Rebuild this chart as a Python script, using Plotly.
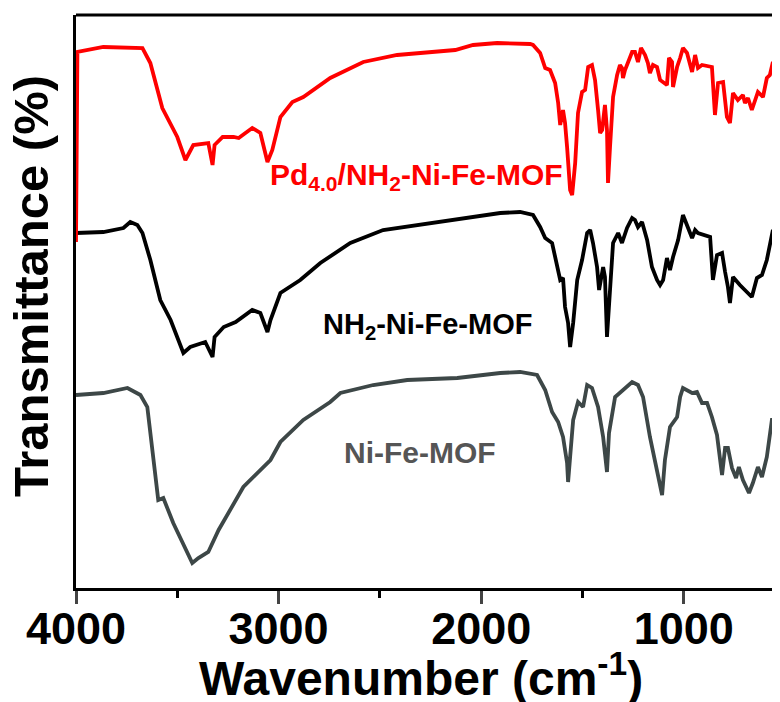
import plotly.graph_objects as go

# ---- data (wavenumber in cm^-1, transmittance in arbitrary offset units) ----
wn_pd = [4000, 3993, 3865, 3672, 3633, 3574, 3500, 3460, 3421, 3347, 3326, 3316, 3276, 3222, 3197,
         3130, 3090, 3055, 3031, 2991, 2932, 2878, 2745, 2582, 2415, 2252, 2128, 2040, 1921, 1758,
         1744, 1709, 1684, 1660, 1635, 1620, 1610, 1596, 1586, 1576, 1561, 1551, 1536, 1522, 1502,
         1487, 1472, 1453, 1438, 1423, 1413, 1403, 1389, 1379, 1374, 1364, 1349, 1329, 1315, 1305,
         1300, 1290, 1275, 1255, 1241, 1226, 1211, 1191, 1177, 1167, 1152, 1132, 1117, 1093, 1083,
         1073, 1058, 1053, 1033, 1018, 1004, 984, 959, 944, 930, 910, 861, 846, 831, 806,
         787, 772, 757, 733, 708, 698, 683, 664, 634, 609, 590, 575, 560, 540, 525]
t_pd = [346, 536, 541, 540, 525, 480, 451, 428, 443, 445, 423, 443, 451, 451, 450,
        460, 455, 426, 438, 471, 486, 491, 510, 526, 533, 536, 538, 543, 545, 544,
        543, 535, 520, 518, 505, 485, 463, 478, 465, 441, 398, 393, 425, 475, 496,
        498, 521, 523, 508, 478, 455, 458, 483, 458, 405, 441, 491, 513, 523, 520,
        510, 518, 525, 536, 536, 526, 540, 533, 525, 515, 523, 521, 508, 505, 503,
        530, 526, 501, 521, 530, 540, 535, 516, 533, 520, 523, 521, 473, 505, 506,
        471, 465, 495, 488, 493, 485, 490, 478, 496, 491, 510, 513, 526, 510, 508]

wn_nh = [4000, 3865, 3766, 3732, 3697, 3672, 3633, 3584, 3533, 3470, 3436, 3362, 3326, 3316, 3271,
         3212, 3130, 3090, 3055, 3040, 2991, 2908, 2893, 2794, 2646, 2484, 2237, 2069, 1906, 1808,
         1744, 1709, 1684, 1650, 1625, 1610, 1596, 1586, 1571, 1561, 1546, 1526, 1502, 1477, 1462,
         1448, 1428, 1418, 1398, 1389, 1379, 1364, 1349, 1324, 1305, 1280, 1255, 1241, 1226, 1206,
         1181, 1157, 1132, 1117, 1102, 1083, 1068, 1053, 1028, 1004, 979, 959, 944, 930, 870,
         856, 836, 811, 796, 782, 772, 757, 723, 688, 664, 639, 614, 590, 575, 560, 540, 525]
t_nh = [355, 356, 360, 366, 363, 355, 328, 288, 268, 235, 241, 246, 231, 251, 261,
        266, 278, 275, 256, 268, 295, 306, 308, 325, 345, 358, 365, 370, 375, 376,
        373, 361, 350, 345, 321, 308, 310, 281, 265, 241, 265, 308, 328, 355, 358,
        345, 321, 298, 321, 311, 251, 301, 345, 355, 345, 360, 370, 368, 361, 366,
        348, 321, 308, 303, 308, 330, 318, 331, 348, 373, 361, 350, 358, 355, 351,
        308, 333, 335, 316, 301, 285, 311, 303, 296, 291, 310, 313, 328, 341, 358, 341, 338]

wn_ni = [4000, 3865, 3746, 3682, 3648, 3623, 3608, 3594, 3569, 3520, 3426, 3396, 3347, 3296, 3174,
         3105, 3040, 2991, 2878, 2745, 2695, 2533, 2365, 2118, 1906, 1808, 1724, 1684, 1650, 1620,
         1596, 1576, 1571, 1561, 1546, 1522, 1497, 1477, 1453, 1423, 1398, 1379, 1369, 1339, 1280,
         1255, 1226, 1201, 1167, 1132, 1107, 1093, 1068, 1033, 1018, 1004, 959, 935, 910, 885,
         861, 836, 811, 796, 782, 762, 742, 728, 708, 678, 659, 634, 614, 590, 565, 540, 525]
t_ni = [193, 195, 200, 193, 181, 141, 111, 88, 90, 65, 25, 30, 36, 58, 101,
        115, 128, 146, 168, 186, 195, 203, 208, 210, 215, 216, 213, 198, 176, 166,
        151, 125, 106, 131, 168, 186, 181, 203, 200, 181, 151, 116, 155, 191, 201,
        206, 203, 191, 151, 118, 93, 128, 161, 171, 191, 200, 195, 196, 185, 185,
        171, 153, 113, 140, 140, 120, 110, 121, 108, 95, 105, 121, 111, 131, 168, 168, 151]

x_ticks = [4000, 3000, 2000, 1000]
labels = ["Pd<sub>4.0</sub>/NH<sub>2</sub>-Ni-Fe-MOF", "NH<sub>2</sub>-Ni-Fe-MOF", "Ni-Fe-MOF"]

FONT = "Liberation Sans, Arial, sans-serif"

fig = go.Figure()
fig.add_trace(go.Scatter(x=wn_ni, y=t_ni, mode="lines", line=dict(color="#3d4747", width=3.8),
                         showlegend=False))
fig.add_trace(go.Scatter(x=wn_nh, y=t_nh, mode="lines", line=dict(color="#000000", width=3.8),
                         showlegend=False))
fig.add_trace(go.Scatter(x=wn_pd, y=t_pd, mode="lines", line=dict(color="#ff0000", width=3.8),
                         showlegend=False))

fig.update_layout(
    width=772, height=694,
    margin=dict(l=68, r=0, t=7, b=114),
    plot_bgcolor="white", paper_bgcolor="white",
    font=dict(family=FONT, color="black"),
    xaxis=dict(range=[4000, 525], tickvals=x_ticks, ticks="outside", ticklen=13, tickwidth=3,
               showline=True, linewidth=3, linecolor="black", showgrid=False, zeroline=False,
               tickfont=dict(size=45, family=FONT, weight="bold"), ticklabelstandoff=-14,
               minor=dict(dtick=500, tick0=0, ticks="outside", ticklen=7, tickwidth=3, tickcolor="black")),
    yaxis=dict(range=[0, 573], showticklabels=False, ticks="", showline=True, linewidth=3,
               linecolor="black", showgrid=False, zeroline=False),
    shapes=[dict(type="line", xref="paper", yref="paper", x0=0, x1=1, y0=1, y1=1,
                 line=dict(color="black", width=3))],
    annotations=[
        dict(text=labels[0], x=0.483, y=0.719, xref="paper", yref="paper", showarrow=False,
             xanchor="center", yanchor="middle",
             font=dict(size=30, color="#ff0000", family=FONT, weight="bold")),
        dict(text=labels[1], x=0.499, y=0.457, xref="paper", yref="paper", showarrow=False,
             xanchor="center", yanchor="middle",
             font=dict(size=29, color="#000000", family=FONT, weight="bold")),
        dict(text=labels[2], x=0.489, y=0.236, xref="paper", yref="paper", showarrow=False,
             xanchor="center", yanchor="middle",
             font=dict(size=30, color="#555555", family=FONT, weight="bold")),
        dict(text="Wavenumber (cm<sup>-1</sup>)", x=0.49, y=-0.152, xref="paper", yref="paper",
             xanchor="center", yanchor="middle", showarrow=False,
             font=dict(size=48, color="black", family=FONT, weight="bold")),
        dict(text="Transmittance (%)", x=-0.064, y=0.527, xref="paper", yref="paper",
             xanchor="center", yanchor="middle", textangle=-90, showarrow=False,
             font=dict(size=49, color="black", family=FONT, weight="bold")),
    ],
)

fig.write_html("out.html")
